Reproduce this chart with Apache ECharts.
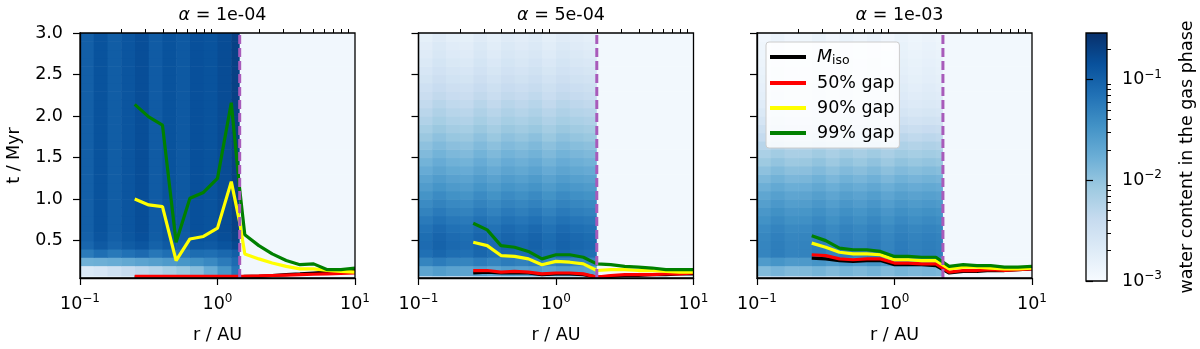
<!DOCTYPE html>
<html>
<head>
<meta charset="utf-8">
<script src="https://cdn.jsdelivr.net/npm/echarts@6/dist/echarts.min.js"></script>
<style>
  html, body { margin: 0; padding: 0; background: #fff; }
  #chart { width: 1200px; height: 349px; }
</style>
</head>
<body>
<div id="chart"></div>
<script>
// grid of the water content maps (r in AU, t in Myr)
const R_EDGES = [0.1, 0.1259, 0.1585, 0.1995, 0.2512, 0.3162, 0.3981, 0.5012, 0.631, 0.7943, 1.0, 1.259, 1.585, 1.995, 2.512]
const T_EDGES = [0.05, 0.08, 0.2, 0.3, 0.4, 0.5, 0.6, 0.7, 0.8, 0.9, 1.0, 1.1, 1.2, 1.3, 1.4, 1.5,
  1.6, 1.7, 1.8, 1.9, 2.0, 2.1, 2.2, 2.3, 2.4, 2.5, 2.6, 2.7, 2.8, 2.9, 3.0]

const ALPHAS = ['1e-04', '5e-04', '1e-03']
const SNOW = [1.45, 1.98, 2.25]
const OUTER = [-2.93, -2.94, -2.94]

// log10 water content per time row (inside the snow line)
const ROWS_1E4 = [-2.7, -2.3, -1.6, -1.15, -0.95, -0.9, -0.88, -0.88, -0.88, -0.88, -0.88, -0.88, -0.88, -0.88, -0.88,
  -0.88, -0.88, -0.88, -0.88, -0.88, -0.88, -0.88, -0.88, -0.88, -0.88, -0.88, -0.88, -0.88, -0.88, -0.88]
const ROWS_5E4 = [-2.4, -1.62, -1.3, -1.1, -1.06, -1.08, -1.13, -1.2, -1.28, -1.36, -1.44, -1.53, -1.61, -1.7, -1.78,
  -1.86, -1.94, -2.02, -2.1, -2.18, -2.25, -2.32, -2.39, -2.45, -2.51, -2.56, -2.61, -2.66, -2.7, -2.74]
const ROWS_1E3 = [-2.45, -1.87, -1.52, -1.3, -1.3, -1.32, -1.36, -1.42, -1.48, -1.56, -1.64, -1.74, -1.84, -1.94, -2.04,
  -2.14, -2.24, -2.34, -2.44, -2.54, -2.62, -2.68, -2.72, -2.75, -2.78, -2.8, -2.82, -2.84, -2.86, -2.88]

// radial stripes (log10 offset per r column)
const STRIPES_1E4 = [-0.1, 0.02, -0.08, 0.0, 0.06, -0.06, 0.02, -0.04, 0.04, 0.02, 0.08, 0.18]
const STRIPES_5E4 = [-0.04, 0.04, -0.02, -0.04, 0.04, -0.03, 0.04, 0.0, 0.05, -0.03, 0.04, 0.0, -0.03]
const STRIPES_1E3 = [-0.04, 0.03, -0.03, -0.02, 0.04, -0.03, 0.04, -0.01, 0.05, -0.03, 0.04, 0.0, 0.03, 0.0]

// alpha = 1e-4: lowest three rows change along r
const BOTTOM_1E4 = [
  [-2.8, -2.8, -2.75, -2.7, -2.65, -2.6, -2.5, -2.4, -2.25, -2.05, -1.75, -1.45],
  [-2.65, -2.6, -2.5, -2.4, -2.32, -2.25, -2.15, -2.05, -1.95, -1.75, -1.5, -1.2],
  [-1.8, -1.78, -1.75, -1.7, -1.65, -1.6, -1.55, -1.5, -1.45, -1.38, -1.25, -1.1]
]

// gap opening times (Myr)
const R_1E4 = [0.25, 0.316, 0.398, 0.5, 0.63, 0.79, 1.0, 1.26, 1.45, 1.58, 2.0, 2.5, 3.16, 3.98, 5.0, 6.3, 7.9, 10]
const MISO_1E4 = [0.06, 0.06, 0.06, 0.06, 0.06, 0.06, 0.06, 0.06, 0.06, 0.07, 0.07, 0.08, 0.09, 0.1, 0.11, 0.12, 0.13, 0.14]
const GAP50_1E4 = [0.07, 0.07, 0.07, 0.07, 0.07, 0.07, 0.07, 0.07, 0.07, 0.07, 0.075, 0.08, 0.085, 0.09, 0.095, 0.1, 0.105, 0.11]
const GAP90_1E4 = [1.0, 0.93, 0.91, 0.26, 0.52, 0.55, 0.65, 1.21, 0.72, 0.34, 0.28, 0.23, 0.19, 0.16, 0.16, 0.14, 0.13, 0.12]
const GAP99_1E4 = [2.14, 1.99, 1.89, 0.48, 1.01, 1.08, 1.25, 2.16, 1.12, 0.57, 0.44, 0.34, 0.26, 0.21, 0.22, 0.15, 0.15, 0.17]

const R_5E4 = [0.25, 0.316, 0.398, 0.5, 0.63, 0.79, 1.0, 1.26, 1.58, 1.98, 2.5, 3.16, 3.98, 5.0, 6.3, 7.9, 10]
const MISO_5E4 = [0.11, 0.12, 0.11, 0.11, 0.11, 0.09, 0.1, 0.1, 0.09, 0.06, 0.07, 0.08, 0.08, 0.09, 0.09, 0.1, 0.1]
const GAP50_5E4 = [0.14, 0.14, 0.12, 0.13, 0.12, 0.1, 0.11, 0.11, 0.1, 0.06, 0.08, 0.09, 0.09, 0.09, 0.1, 0.1, 0.11]
const GAP90_5E4 = [0.48, 0.44, 0.32, 0.31, 0.28, 0.21, 0.25, 0.24, 0.22, 0.14, 0.15, 0.15, 0.14, 0.14, 0.13, 0.12, 0.12]
const GAP99_5E4 = [0.71, 0.63, 0.44, 0.42, 0.37, 0.28, 0.33, 0.33, 0.3, 0.22, 0.21, 0.19, 0.18, 0.17, 0.15, 0.15, 0.15]

const R_1E3 = [0.25, 0.316, 0.398, 0.5, 0.63, 0.79, 1.0, 1.26, 1.58, 2.0, 2.5, 3.16, 3.98, 5.0, 6.3, 7.9, 10]
const MISO_1E3 = [0.29, 0.28, 0.26, 0.25, 0.26, 0.26, 0.21, 0.21, 0.21, 0.2, 0.11, 0.13, 0.13, 0.14, 0.14, 0.15, 0.16]
const GAP50_1E3 = [0.33, 0.32, 0.28, 0.27, 0.28, 0.28, 0.23, 0.23, 0.22, 0.22, 0.12, 0.14, 0.14, 0.15, 0.14, 0.15, 0.16]
const GAP90_1E3 = [0.47, 0.42, 0.36, 0.34, 0.34, 0.33, 0.27, 0.27, 0.26, 0.26, 0.16, 0.18, 0.18, 0.17, 0.16, 0.16, 0.17]
const GAP99_1E3 = [0.56, 0.5, 0.41, 0.39, 0.39, 0.37, 0.31, 0.31, 0.3, 0.3, 0.19, 0.21, 0.2, 0.2, 0.18, 0.18, 0.19]

const X_MAJOR = [0.1, 1, 10]
const X_MINOR = [0.2, 0.3, 0.4, 0.5, 0.6, 0.7, 0.8, 0.9, 2, 3, 4, 5, 6, 7, 8, 9]
const Y_TICKS = [0.5, 1.0, 1.5, 2.0, 2.5, 3.0]
const CB_MAJOR = [0.001, 0.01, 0.1]
const CB_MINOR = [0.002, 0.003, 0.004, 0.005, 0.006, 0.007, 0.008, 0.009,
  0.02, 0.03, 0.04, 0.05, 0.06, 0.07, 0.08, 0.09, 0.2]
const CB_MAX = 0.29

const BLUES = ['#f7fbff', '#deebf7', '#c6dbef', '#9ecae1', '#6baed6', '#4292c6', '#2171b5', '#08519c', '#08306b']
const LINE_NAMES = ['Miso', '50% gap', '90% gap', '99% gap']
const LINE_COLORS = ['#000000', '#ff0000', '#ffff00', '#008000']

const FONT = 'DejaVu Sans'
const FS = 17.5
const GRID_LEFT = [80, 418.5, 757]
const GRID_W = 275
const GRID_TOP = 33
const GRID_H = 248

const panels = [
  { rows: ROWS_1E4, stripes: STRIPES_1E4, bottom: BOTTOM_1E4, r: R_1E4, lines: [MISO_1E4, GAP50_1E4, GAP90_1E4, GAP99_1E4] },
  { rows: ROWS_5E4, stripes: STRIPES_5E4, bottom: null, r: R_5E4, lines: [MISO_5E4, GAP50_5E4, GAP90_5E4, GAP99_5E4] },
  { rows: ROWS_1E3, stripes: STRIPES_1E3, bottom: null, r: R_1E3, lines: [MISO_1E3, GAP50_1E3, GAP90_1E3, GAP99_1E3] }
]

function buildCells(p, k) {
  const cells = []
  const snow = SNOW[k]
  for (let i = 0; i < T_EDGES.length - 1; i++) {
    for (let j = 0; j < R_EDGES.length - 1 && R_EDGES[j] < snow; j++) {
      const x1 = Math.min(R_EDGES[j + 1], snow)
      let v
      if (p.bottom && i < p.bottom.length) v = p.bottom[i][j]
      else v = p.rows[i] + p.stripes[j]
      cells.push([R_EDGES[j], x1, T_EDGES[i], T_EDGES[i + 1], v])
    }
    cells.push([snow, 10, T_EDGES[i], T_EDGES[i + 1], OUTER[k]])
  }
  return cells
}

function renderCell(params, api) {
  const a = api.coord([api.value(0), api.value(3)])
  const b = api.coord([api.value(1), api.value(2)])
  return {
    type: 'rect',
    shape: { x: a[0], y: a[1], width: b[0] - a[0] + 0.6, height: b[1] - a[1] + 0.6 },
    style: { fill: api.visual('color') }
  }
}

function renderColorbar(params, api) {
  const a = api.coord([api.value(0), api.value(3)])
  const b = api.coord([api.value(1), api.value(2)])
  const stops = BLUES.map((c, i) => ({ offset: i / (BLUES.length - 1), color: c }))
  return {
    type: 'rect',
    shape: { x: a[0], y: a[1], width: b[0] - a[0], height: b[1] - a[1] },
    style: { fill: new echarts.graphic.LinearGradient(0, 1, 0, 0, stops) }
  }
}

function powLabel(v) {
  const e = Math.round(Math.log10(v))
  return '{b|10}{e|' + String(e).replace('-', '\u2212') + '}'
}
const powRich = {
  b: { fontSize: FS, fontFamily: FONT, color: '#000', lineHeight: 22 },
  e: { fontSize: 12, fontFamily: FONT, color: '#000', verticalAlign: 'top', lineHeight: 13 }
}

const grids = []
const xAxes = []
const yAxes = []
const series = []
const titles = []

panels.forEach((p, k) => {
  grids.push({
    left: GRID_LEFT[k], top: GRID_TOP, width: GRID_W, height: GRID_H,
    show: true, borderColor: '#000', borderWidth: 1.3, backgroundColor: 'rgba(0,0,0,0)', z: 10
  })
  titles.push({
    text: '{a|\u03b1} = ' + ALPHAS[k],
    left: GRID_LEFT[k] + GRID_W / 2, top: 1, textAlign: 'center',
    textStyle: {
      fontSize: FS, fontWeight: 'normal', color: '#000', fontFamily: FONT,
      rich: { a: { fontSize: FS, fontStyle: 'italic', fontFamily: FONT, color: '#000' } }
    }
  })
  // major x axis
  xAxes.push({
    gridIndex: k, type: 'log', logBase: 10, min: 0.1, max: 10, z: 10,
    axisLine: { show: true, lineStyle: { color: '#000', width: 1.3 } },
    axisTick: { customValues: X_MAJOR, length: 7, lineStyle: { color: '#000', width: 1.2 } },
    axisLabel: { customValues: X_MAJOR, formatter: powLabel, rich: powRich, margin: 15 },
    splitLine: { show: false }, minorTick: { show: false },
    name: 'r / AU', nameLocation: 'middle', nameGap: 48,
    nameTextStyle: { fontSize: FS, color: '#000', fontFamily: FONT }
  })
  // minor x ticks
  xAxes.push({
    gridIndex: k, type: 'log', logBase: 10, min: 0.1, max: 10, z: 10,
    axisLine: { show: false },
    axisTick: { customValues: X_MINOR, length: 4, lineStyle: { color: '#000', width: 1 } },
    axisLabel: { show: false }, splitLine: { show: false }
  })
  yAxes.push({
    gridIndex: k, type: 'value', min: 0.05, max: 3.0, z: 10,
    axisLine: { show: true, lineStyle: { color: '#000', width: 1.3 } },
    axisTick: { show: true, customValues: Y_TICKS, length: 7, lineStyle: { color: '#000', width: 1.2 } },
    axisLabel: {
      show: k === 0, customValues: Y_TICKS, formatter: v => v.toFixed(1),
      fontSize: FS, color: '#000', fontFamily: FONT, margin: 17
    },
    splitLine: { show: false },
    name: k === 0 ? 't / Myr' : '', nameLocation: 'middle', nameGap: 57, nameRotate: 90,
    nameTextStyle: { fontSize: FS, color: '#000', fontFamily: FONT }
  })
})

// colorbar
grids.push({
  left: 1086, top: GRID_TOP, width: 21, height: GRID_H,
  show: true, borderColor: '#000', borderWidth: 1.3, backgroundColor: 'rgba(0,0,0,0)', z: 10
})
xAxes.push({ gridIndex: 3, type: 'value', min: 0, max: 1, show: false })
yAxes.push({
  gridIndex: 3, type: 'log', logBase: 10, min: 0.001, max: CB_MAX, position: 'right', z: 10,
  axisLine: { show: false },
  axisTick: { customValues: CB_MAJOR, length: 7, lineStyle: { color: '#000', width: 1.2 } },
  axisLabel: { customValues: CB_MAJOR, formatter: powLabel, rich: powRich, margin: 15 },
  splitLine: { show: false },
  name: 'water content in the gas phase', nameLocation: 'middle', nameGap: 71, nameRotate: 90,
  nameTextStyle: { fontSize: FS, color: '#000', fontFamily: FONT }
})
yAxes.push({
  gridIndex: 3, type: 'log', logBase: 10, min: 0.001, max: CB_MAX, position: 'right', z: 10,
  axisLine: { show: false },
  axisTick: { customValues: CB_MINOR, length: 4, lineStyle: { color: '#000', width: 1 } },
  axisLabel: { show: false }, splitLine: { show: false }
})

// heatmaps
panels.forEach((p, k) => {
  series.push({
    type: 'custom', name: 'map' + k, xAxisIndex: 2 * k, yAxisIndex: k,
    renderItem: renderCell, clip: true, z: 1,
    encode: { x: [0, 1], y: [2, 3] },
    data: buildCells(p, k)
  })
})
series.push({
  type: 'custom', name: 'colorbar', xAxisIndex: 6, yAxisIndex: 3,
  renderItem: renderColorbar, z: 1,
  encode: { x: [0, 1], y: [2, 3] },
  data: [[0, 1, 0.001, CB_MAX]]
})

// gap lines and snow lines
panels.forEach((p, k) => {
  p.lines.forEach((vals, n) => {
    series.push({
      type: 'line', name: LINE_NAMES[n], xAxisIndex: 2 * k, yAxisIndex: k,
      data: p.r.map((r, i) => [r, vals[i]]),
      showSymbol: false, symbol: 'none', z: 5,
      lineStyle: { color: LINE_COLORS[n], width: 3.2 },
      itemStyle: { color: LINE_COLORS[n] }
    })
  })
  series.push({
    type: 'line', name: 'snow line', xAxisIndex: 2 * k, yAxisIndex: k,
    data: [[SNOW[k], 0.05], [SNOW[k], 3.0]],
    showSymbol: false, symbol: 'none', z: 6,
    lineStyle: { color: '#a85bba', width: 3, type: [9, 4] }
  })
})

const chart = echarts.init(document.getElementById('chart'))
chart.setOption({
  animation: false,
  backgroundColor: '#fff',
  textStyle: { fontFamily: FONT },
  title: titles,
  grid: grids,
  xAxis: xAxes,
  yAxis: yAxes,
  visualMap: {
    type: 'continuous', show: false, seriesIndex: [0, 1, 2], dimension: 4,
    min: -3, max: Math.log10(CB_MAX),
    inRange: { color: BLUES }
  },
  legend: {
    data: LINE_NAMES, orient: 'vertical', left: 766, top: 42,
    icon: 'rect', itemWidth: 36, itemHeight: 4, itemGap: 7,
    padding: [6, 5, 6, 4],
    backgroundColor: 'rgba(255,255,255,0.85)', borderColor: '#cccccc', borderWidth: 1, borderRadius: 3,
    formatter: n => n === 'Miso' ? '{m|M}{s|iso}' : n,
    textStyle: {
      fontSize: FS, color: '#000', fontFamily: FONT, padding: [0, 0, 0, 6],
      rich: {
        m: { fontSize: FS, fontStyle: 'italic', fontFamily: FONT, color: '#000' },
        s: { fontSize: 12.5, fontFamily: FONT, color: '#000', verticalAlign: 'bottom', padding: [7, 0, 0, 0] }
      }
    }
  },
  series: series
})
</script>
</body>
</html>
